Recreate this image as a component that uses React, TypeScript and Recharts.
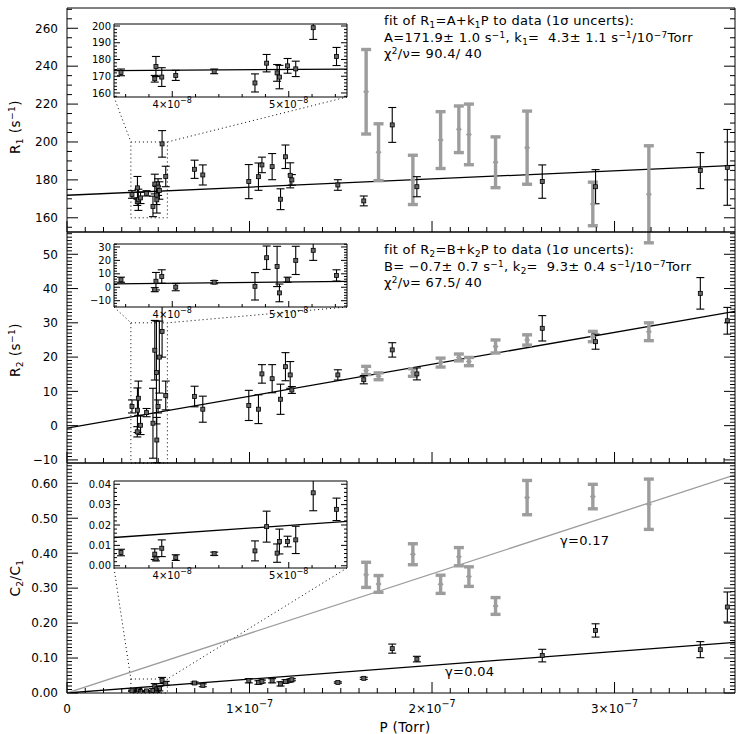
import React from "react";
import {
  ComposedChart,
  Scatter,
  XAxis,
  YAxis,
  ErrorBar,
  ReferenceLine,
  ReferenceArea,
} from "recharts";

const FONT = '"DejaVu Sans", Verdana, sans-serif';
const W = 737;
const H = 734;
const PLOT_L = 67;
const PLOT_R = 735;
const INSET_L = 114;
const INSET_R = 347;
const GRAY = "#9d9d9d";

// pressure axis
const X_MAX = 3.66e-7;
const X_MAJOR = [0, 1e-7, 2e-7, 3e-7];
const X_LABELS = [["0", ""], ["1×10", "−7"], ["2×10", "−7"], ["3×10", "−7"]];
const INSET_X: [number, number] = [3.5e-8, 5.5e-8];
const INSET_X_MAJOR = [4e-8, 5e-8];
const INSET_X_LABELS = [["4×10", "−8"], ["5×10", "−8"]];

// measured points (Torr)
const pBlack = [
  3.56e-8, 3.85e-8, 3.86e-8, 3.91e-8, 4.03e-8, 4.36e-8, 4.71e-8, 4.81e-8, 4.9e-8, 4.92e-8,
  4.99e-8, 5.06e-8, 5.21e-8, 5.41e-8, 6.99e-8, 7.44e-8, 9.96e-8, 1.049e-7, 1.068e-7, 1.124e-7,
  1.17e-7, 1.197e-7, 1.223e-7, 1.232e-7, 1.484e-7, 1.626e-7, 1.782e-7, 1.917e-7, 2.604e-7,
  2.896e-7, 3.47e-7, 3.618e-7,
];
const pGray = [
  1.639e-7, 1.707e-7, 1.895e-7, 2.047e-7, 2.147e-7, 2.202e-7, 2.348e-7, 2.521e-7, 2.881e-7, 3.188e-7,
];

// R1 (s^-1)
const r1Black = [
  172.3, 168.5, 175.8, 169.5, 170.5, 172.9, 166, 177.8, 172, 169.5, 176.2, 174.4, 199, 181.8,
  185.6, 182.6, 179.1, 181.7, 187.9, 187, 169.8, 192.2, 182.4, 180, 177.3, 168.9, 209, 176.4,
  179.1, 176.4, 184.9, 186.6,
];
const r1BlackErr = [
  2, 2, 6, 5.6, 3, 1.4, 5.4, 5.2, 5, 7, 4.4, 4.6, 7, 5.4, 4.8, 5.3, 9, 7.2, 4.1, 6.9, 5.5, 6.2,
  6.6, 2.8, 2.8, 2.6, 9.2, 5.3, 8.8, 9, 9.5, 20,
];
const r1Gray = [226.5, 194.6, 180, 201, 206.7, 204, 189.3, 197, 167.3, 172.4];
const r1GrayErr = [22.3, 15, 13, 15, 12.3, 16, 13.4, 19.3, 11.5, 25.6];

// R2 (s^-1)
const r2Black = [
  5.6, -1.8, 4.5, 8, 0.1, 3.8, 0.7, 22, 15.5, -4.2, 5.6, 20, 27.5, 8.8, 8.5, 4.8, 5.9, 4.8,
  15.1, 13.7, 7.7, 17.2, 14.8, 10.4, 14.8, 13.4, 22.1, 15.1, 28.4, 24.5, 38.6, 30.6,
];
const r2BlackErr = [
  1.9, 1.5, 6.5, 5, 2.7, 1.2, 10.2, 8.7, 15, 6.6, 1.9, 10.5, 7.5, 4.2, 3, 3.8, 4.4, 4.2, 2.7,
  4.1, 4.4, 4.1, 3.9, 1, 1.5, 1.2, 2.1, 1.75, 3.7, 2.2, 4.6, 3.9,
];
const r2Gray = [16.1, 14.4, 15.5, 18.4, 19.9, 18.7, 23.1, 25, 26, 27.4];
const r2GrayErr = [1.2, 1, 1.1, 1.3, 1, 1.2, 1.9, 1.5, 1.5, 2.6];

// C2/C1
const cBlack = [
  0.0065, 0.0057, 0.0034, 0.0086, 0.004, 0.0059, 0.0073, 0.0192, 0.0062, 0.0119, 0.0119,
  0.0127, 0.0358, 0.0277, 0.0286, 0.022, 0.035, 0.03, 0.033, 0.035, 0.026, 0.033, 0.036, 0.038,
  0.03, 0.042, 0.127, 0.097, 0.107, 0.179, 0.124, 0.246,
];
const cBlackErr = [
  0.0016, 0.0026, 0.001, 0.0041, 0.0014, 0.0008, 0.0049, 0.0076, 0.0045, 0.0061, 0.0026,
  0.0067, 0.0088, 0.0055, 0.003, 0.004, 0.006, 0.005, 0.004, 0.006, 0.006, 0.005, 0.004, 0.003,
  0.002, 0.003, 0.013, 0.008, 0.018, 0.019, 0.023, 0.043,
];
const cGray = [0.338, 0.312, 0.397, 0.311, 0.39, 0.333, 0.249, 0.559, 0.562, 0.54];
const cGrayErr = [0.036, 0.024, 0.03, 0.026, 0.026, 0.028, 0.024, 0.049, 0.035, 0.072];

// fits: value at P=0 and slope per 1e-7 Torr
const r1Fit = [{ a: 171.9, k: 4.3, color: "#000" }];
const r2Fit = [{ a: -0.7, k: 9.3, color: "#000" }];
const cFit = [
  { a: 0, k: 0.0396, color: "#000" },
  { a: 0, k: 0.1705, color: GRAY },
];

// axis ticks
const R1_TICKS = [160, 180, 200, 220, 240, 260];
const R1_LABELS = ["160", "180", "200", "220", "240", "260"];
const R2_TICKS = [-10, 0, 10, 20, 30, 40, 50];
const R2_LABELS = ["−10", "0", "10", "20", "30", "40", "50"];
const C_TICKS = [0, 0.1, 0.2, 0.3, 0.4, 0.5, 0.6];
const C_LABELS = ["0.00", "0.10", "0.20", "0.30", "0.40", "0.50", "0.60"];
const R1_IN_TICKS = [160, 170, 180, 190, 200];
const R1_IN_LABELS = ["160", "170", "180", "190", "200"];
const R2_IN_TICKS = [-10, 0, 10, 20, 30];
const R2_IN_LABELS = ["−10", "0", "10", "20", "30"];
const C_IN_TICKS = [0, 0.01, 0.02, 0.03, 0.04];
const C_IN_LABELS = ["0.00", "0.01", "0.02", "0.03", "0.04"];

function steps(lo: number, hi: number, step: number) {
  const out: number[] = [];
  const n0 = Math.ceil(lo / step - 1e-9);
  const n1 = Math.floor(hi / step + 1e-9);
  for (let i = n0; i <= n1; i++) out.push(+(i * step).toPrecision(10));
  return out;
}

function withMinor(major: number[], lo: number, hi: number, step: number) {
  const tol = step * 1e-3;
  const minor = steps(lo, hi, step).filter((v) => !major.some((m) => Math.abs(m - v) < tol));
  return [...major, ...minor].sort((a, b) => a - b);
}

function rows(p: number[], v: number[], e: number[]) {
  return p.map((x, i) => ({ p: x, v: v[i], e: e[i] }));
}

type Frame = {
  box: { left: number; right: number; top: number; bottom: number };
  xDomain: [number, number];
  xMajor: number[];
  xMinorStep: number;
  xLabels: string[][] | null;
  yDomain: [number, number];
  yMajor: number[];
  yMinorStep: number;
  yLabels: string[];
  big: number;
  small: number;
  font: number;
  xLabelDy: number;
  yGap: number;
  bare?: boolean;
};

// one axis per side; the tick renderer draws inward tick marks and the labels
function frameAxes(f: Frame) {
  const { left, right, top, bottom } = f.box;
  const xAll = withMinor(f.xMajor, f.xDomain[0], f.xDomain[1], f.xMinorStep);
  const yAll = withMinor(f.yMajor, f.yDomain[0], f.yDomain[1], f.yMinorStep);
  const xIdx = (v: number) => f.xMajor.findIndex((t) => Math.abs(t - v) < f.xMinorStep * 1e-3);
  const yIdx = (v: number) => f.yMajor.findIndex((t) => Math.abs(t - v) < f.yMinorStep * 1e-3);
  const base = {
    type: "number" as const,
    allowDataOverflow: true,
    stroke: "#000",
    interval: 0 as const,
    tickLine: false,
    tickSize: 0,
    tickMargin: 0,
    axisLine: !f.bare,
  };
  const bottomTick = (props: any) => {
    const { x, payload } = props;
    const i = xIdx(payload.value);
    const len = i >= 0 ? f.big : f.small;
    const lab = i >= 0 && f.xLabels ? f.xLabels[i] : null;
    return (
      <g>
        <line x1={x} x2={x} y1={bottom} y2={bottom - len} stroke="#000" strokeWidth={1} />
        {lab && (
          <text x={x} y={bottom + f.xLabelDy} textAnchor="middle" fontSize={f.font} fontFamily={FONT} fill="#000">
            {lab[0]}
            {lab[1] && (
              <tspan dy={-f.font * 0.5} fontSize={f.font * 0.8}>
                {lab[1]}
              </tspan>
            )}
          </text>
        )}
      </g>
    );
  };
  const topTick = (props: any) => {
    const { x, payload } = props;
    const len = xIdx(payload.value) >= 0 ? f.big : f.small;
    return <line x1={x} x2={x} y1={top} y2={top + len} stroke="#000" strokeWidth={1} />;
  };
  const leftTick = (props: any) => {
    const { y, payload } = props;
    const i = yIdx(payload.value);
    const len = i >= 0 ? f.big : f.small;
    return (
      <g>
        <line x1={left} x2={left + len} y1={y} y2={y} stroke="#000" strokeWidth={1} />
        {i >= 0 && (
          <text x={left - f.yGap} y={y} dy="0.36em" textAnchor="end" fontSize={f.font} fontFamily={FONT} fill="#000">
            {f.yLabels[i]}
          </text>
        )}
      </g>
    );
  };
  const rightTick = (props: any) => {
    const { y, payload } = props;
    const len = yIdx(payload.value) >= 0 ? f.big : f.small;
    return <line x1={right} x2={right - len} y1={y} y2={y} stroke="#000" strokeWidth={1} />;
  };
  const t = (fn: any) => (f.bare ? false : fn);
  return [
    <XAxis key="xb" xAxisId={0} dataKey="p" domain={f.xDomain} ticks={xAll} height={1} tick={t(bottomTick)} {...base} />,
    <XAxis key="xt" xAxisId="xt" orientation="top" domain={f.xDomain} ticks={xAll} height={1} tick={t(topTick)} {...base} />,
    <YAxis key="yl" yAxisId={0} dataKey="v" domain={f.yDomain} ticks={yAll} width={1} tick={t(leftTick)} {...base} />,
    <YAxis key="yr" yAxisId="yr" orientation="right" domain={f.yDomain} ticks={yAll} width={1} tick={t(rightTick)} {...base} />,
  ];
}

const square = (props: any) => {
  const { cx, cy } = props;
  if (cx == null || cy == null) return <g />;
  return <rect x={cx - 2} y={cy - 2} width={4} height={4} fill="#666" stroke="#000" strokeWidth={0.8} />;
};

const diamond = (props: any) => {
  const { cx, cy } = props;
  if (cx == null || cy == null) return <g />;
  return <path d={`M${cx},${cy - 3}L${cx + 3},${cy}L${cx},${cy + 3}L${cx - 3},${cy}Z`} fill={GRAY} />;
};

type Panel = {
  top: number;
  bottom: number;
  yDomain: [number, number];
  yMajor: number[];
  yLabels: string[];
  yMinorStep: number;
  black: number[];
  blackErr: number[];
  gray: number[];
  grayErr: number[];
  fits: { a: number; k: number; color: string }[];
  box: [number, number];
  xLabels: boolean;
  inset: {
    top: number;
    bottom: number;
    yDomain: [number, number];
    yMajor: number[];
    yLabels: string[];
    yMinorStep: number;
  };
};

const PANELS: Panel[] = [
  {
    top: 8, bottom: 232, yDomain: [152.5, 270.7], yMajor: R1_TICKS, yLabels: R1_LABELS, yMinorStep: 5,
    black: r1Black, blackErr: r1BlackErr, gray: r1Gray, grayErr: r1GrayErr, fits: r1Fit,
    box: [160, 200], xLabels: false,
    inset: { top: 24, bottom: 97, yDomain: [157.6, 201.2], yMajor: R1_IN_TICKS, yLabels: R1_IN_LABELS, yMinorStep: 2 },
  },
  {
    top: 232, bottom: 463, yDomain: [-10.9, 56.5], yMajor: R2_TICKS, yLabels: R2_LABELS, yMinorStep: 1,
    black: r2Black, blackErr: r2BlackErr, gray: r2Gray, grayErr: r2GrayErr, fits: r2Fit,
    box: [-10.9, 30], xLabels: false,
    inset: { top: 244, bottom: 307, yDomain: [-14.7, 32.2], yMajor: R2_IN_TICKS, yLabels: R2_IN_LABELS, yMinorStep: 2 },
  },
  {
    top: 463, bottom: 693, yDomain: [0, 0.658], yMajor: C_TICKS, yLabels: C_LABELS, yMinorStep: 0.01,
    black: cBlack, blackErr: cBlackErr, gray: cGray, grayErr: cGrayErr, fits: cFit,
    box: [0, 0.04], xLabels: true,
    inset: { top: 481, bottom: 568, yDomain: [-0.0011, 0.0416], yMajor: C_IN_TICKS, yLabels: C_IN_LABELS, yMinorStep: 0.002 },
  },
];

function series(cfg: Panel, xr: [number, number]) {
  const inRange = (d: { p: number }) => d.p >= xr[0] && d.p <= xr[1];
  const black = rows(pBlack, cfg.black, cfg.blackErr).filter(inRange);
  const gray = rows(pGray, cfg.gray, cfg.grayErr).filter(inRange);
  return [
    <Scatter key="g" data={gray} dataKey="v" shape={diamond} isAnimationActive={false}>
      <ErrorBar dataKey="e" direction="y" width={5} stroke={GRAY} strokeWidth={3.4} isAnimationActive={false} />
    </Scatter>,
    <Scatter key="b" data={black} dataKey="v" shape={square} isAnimationActive={false}>
      <ErrorBar dataKey="e" direction="y" width={4} stroke="#000" strokeWidth={1.1} isAnimationActive={false} />
    </Scatter>,
  ];
}

function marginFor(left: number, right: number, top: number, bottom: number) {
  // every axis is 1px thick, so pull the margins in by one
  return { top: top - 1, bottom: H - bottom - 1, left: left - 1, right: W - right - 1 };
}

function MainPanel({ cfg }: { cfg: Panel }) {
  const [y0, y1] = cfg.yDomain;
  const xAt = (px: number) => ((px - PLOT_L) / (PLOT_R - PLOT_L)) * X_MAX;
  const yAt = (py: number) => y1 - ((py - cfg.top) / (cfg.bottom - cfg.top)) * (y1 - y0);
  const dotted = { stroke: "#000", strokeWidth: 1, strokeDasharray: "1 3" };
  return (
    <ComposedChart width={W} height={H} margin={marginFor(PLOT_L, PLOT_R, cfg.top, cfg.bottom)}>
      {frameAxes({
        box: { left: PLOT_L, right: PLOT_R, top: cfg.top, bottom: cfg.bottom },
        xDomain: [0, X_MAX], xMajor: X_MAJOR, xMinorStep: 1e-8, xLabels: cfg.xLabels ? X_LABELS : null,
        yDomain: cfg.yDomain, yMajor: cfg.yMajor, yMinorStep: cfg.yMinorStep, yLabels: cfg.yLabels,
        big: 11, small: 5, font: 12, xLabelDy: 20, yGap: 9,
      })}
      <ReferenceArea x1={INSET_X[0]} x2={INSET_X[1]} y1={cfg.box[0]} y2={cfg.box[1]}
        fill="none" ifOverflow="visible" {...dotted} />
      <ReferenceLine ifOverflow="visible" {...dotted}
        segment={[{ x: xAt(INSET_L), y: yAt(cfg.inset.bottom) }, { x: INSET_X[0], y: cfg.box[1] }]} />
      <ReferenceLine ifOverflow="visible" {...dotted}
        segment={[{ x: xAt(INSET_R), y: yAt(cfg.inset.bottom) }, { x: INSET_X[1], y: cfg.box[1] }]} />
      {cfg.fits.map((f, i) => (
        <ReferenceLine key={"fit" + i} ifOverflow="hidden" stroke={f.color} strokeWidth={1.3}
          segment={[{ x: 0, y: f.a }, { x: X_MAX, y: f.a + (f.k * X_MAX) / 1e-7 }]} />
      ))}
      {series(cfg, [0, X_MAX])}
    </ComposedChart>
  );
}

function InsetPanel({ cfg, withData }: { cfg: Panel; withData: boolean }) {
  const ins = cfg.inset;
  return (
    <ComposedChart width={W} height={H} margin={marginFor(INSET_L, INSET_R, ins.top, ins.bottom)}>
      {frameAxes({
        box: { left: INSET_L, right: INSET_R, top: ins.top, bottom: ins.bottom },
        xDomain: INSET_X, xMajor: INSET_X_MAJOR, xMinorStep: 2e-9, xLabels: INSET_X_LABELS,
        yDomain: ins.yDomain, yMajor: ins.yMajor, yMinorStep: ins.yMinorStep, yLabels: ins.yLabels,
        big: 6, small: 3, font: 10, xLabelDy: 11, yGap: 3, bare: withData,
      })}
      {withData &&
        cfg.fits.map((f, i) => (
          <ReferenceLine key={"fit" + i} ifOverflow="hidden" stroke={f.color} strokeWidth={1.3}
            segment={[
              { x: INSET_X[0], y: f.a + (f.k * INSET_X[0]) / 1e-7 },
              { x: INSET_X[1], y: f.a + (f.k * INSET_X[1]) / 1e-7 },
            ]} />
        ))}
      {withData && series(cfg, INSET_X)}
    </ComposedChart>
  );
}

const sub: React.CSSProperties = { fontSize: "0.68em", verticalAlign: "-0.3em", lineHeight: 0 };
const sup: React.CSSProperties = { fontSize: "0.68em", verticalAlign: "0.5em", lineHeight: 0 };

function Note({ left, top, children }: { left: number; top: number; children: React.ReactNode }) {
  return (
    <div
      style={{
        position: "absolute", left, top, fontSize: 13, letterSpacing: 0.3,
        lineHeight: "16.5px", whiteSpace: "pre",
      }}
    >
      {children}
    </div>
  );
}

function YTitle({ y, children }: { y: number; children: React.ReactNode }) {
  return (
    <div
      style={{
        position: "absolute", left: 15, top: y, fontSize: 13.5, letterSpacing: 0.4, whiteSpace: "pre",
        transform: "translate(-50%, -50%) rotate(-90deg)",
      }}
    >
      {children}
    </div>
  );
}

export default function App() {
  return (
    <div
      style={{
        position: "absolute", left: 0, top: 0, width: W, height: H, background: "#fff",
        fontFamily: FONT, color: "#000", overflow: "hidden",
      }}
    >
      {PANELS.map((p, i) => (
        <div key={"m" + i} style={{ position: "absolute", left: 0, top: 0 }}>
          <MainPanel cfg={p} />
        </div>
      ))}
      {PANELS.map((p, i) => (
        <React.Fragment key={"i" + i}>
          <div
            style={{
              position: "absolute", left: INSET_L, top: p.inset.top, width: INSET_R - INSET_L,
              height: p.inset.bottom - p.inset.top, background: "#fff",
            }}
          />
          <div style={{ position: "absolute", left: 0, top: 0 }}>
            <InsetPanel cfg={p} withData={false} />
          </div>
          {/* data layer clipped to the inset box */}
          <div
            style={{
              position: "absolute", left: INSET_L, top: p.inset.top, width: INSET_R - INSET_L,
              height: p.inset.bottom - p.inset.top, overflow: "hidden",
            }}
          >
            <div style={{ position: "absolute", left: -INSET_L, top: -p.inset.top }}>
              <InsetPanel cfg={p} withData />
            </div>
          </div>
        </React.Fragment>
      ))}

      <Note left={384} top={13}>
        <div>fit of R<span style={sub}>1</span>=A+k<span style={sub}>1</span>P to data (1σ uncerts):</div>
        <div>A=171.9± 1.0 s<span style={sup}>−1</span>, k<span style={sub}>1</span>=  4.3± 1.1 s<span style={sup}>−1</span>/10<span style={sup}>−7</span>Torr</div>
        <div>χ<span style={sup}>2</span>/ν= 90.4/ 40</div>
      </Note>
      <Note left={384} top={242}>
        <div>fit of R<span style={sub}>2</span>=B+k<span style={sub}>2</span>P to data (1σ uncerts):</div>
        <div>B= −0.7± 0.7 s<span style={sup}>−1</span>, k<span style={sub}>2</span>=  9.3± 0.4 s<span style={sup}>−1</span>/10<span style={sup}>−7</span>Torr</div>
        <div>χ<span style={sup}>2</span>/ν= 67.5/ 40</div>
      </Note>
      <Note left={560} top={533}>γ=0.17</Note>
      <Note left={445} top={664}>γ=0.04</Note>

      <YTitle y={127}>R<span style={sub}>1</span> (s<span style={sup}>−1</span>)</YTitle>
      <YTitle y={350}>R<span style={sub}>2</span> (s<span style={sup}>−1</span>)</YTitle>
      <YTitle y={578}>C<span style={sub}>2</span>/C<span style={sub}>1</span></YTitle>
      <div
        style={{
          position: "absolute", left: 405, top: 727, fontSize: 13.5, letterSpacing: 0.4,
          transform: "translate(-50%, -50%)", whiteSpace: "pre",
        }}
      >
        P (Torr)
      </div>
    </div>
  );
}
